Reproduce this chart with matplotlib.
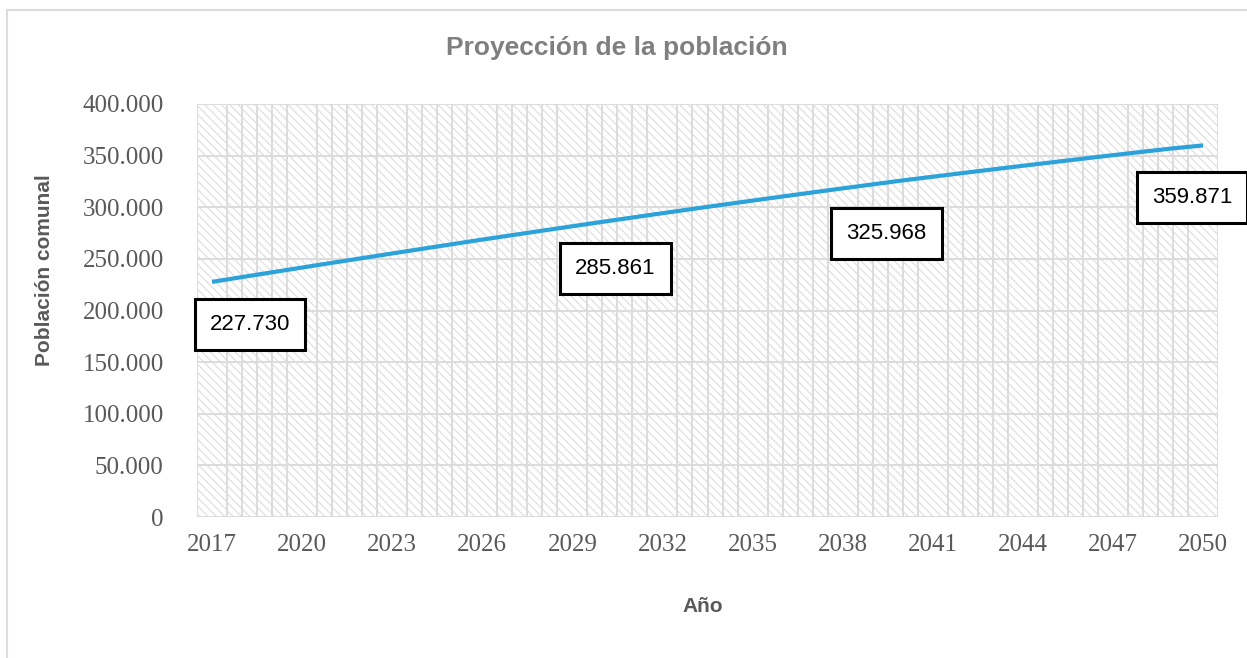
import matplotlib
matplotlib.use("Agg")
import matplotlib.pyplot as plt
from matplotlib.patches import Rectangle
from matplotlib.ticker import FuncFormatter, MultipleLocator

# proyeccion anual de poblacion comunal
years = list(range(2017, 2051))
population = [227730, 232380, 237000, 241600, 246170, 250720, 255240, 259740,
              264220, 268680, 273000, 277300, 281600, 285861, 290060, 294220,
              298340, 302420, 306450, 310440, 314380, 318280, 322140, 325968,
              329560, 333130, 336660, 340160, 343620, 347040, 350430, 353780,
              357040, 359871]
label_years = [2017, 2030, 2040, 2050]
label_offsets = [(38, -43), (13, -47), (-16, -53), (-11, -52)]  # pixels
tick_years = list(range(2017, 2051, 3))

sans = ["Liberation Sans", "DejaVu Sans"]
grid_c = "#DCDCDC"
text_c = "#595959"

plt.rcParams["hatch.color"] = "#E0E0E0"
plt.rcParams["hatch.linewidth"] = 0.9

fig = plt.figure(figsize=(12.47, 6.58), dpi=100)
ax = fig.add_axes([197 / 1247, 1 - 517 / 658, (1218 - 197) / 1247, (517 - 104) / 658])

# fondo rayado del area de trazado
ax.add_patch(Rectangle((0, 0), 1, 1, transform=ax.transAxes, facecolor="white",
                       edgecolor="#E0E0E0", hatch="\\\\\\\\", lw=0, zorder=0))

ax.plot(years, population, color="#2CA2DB", lw=3.0, zorder=3, solid_capstyle="butt")

for yr, off in zip(label_years, label_offsets):
    val = population[years.index(yr)]
    ax.annotate(f"{val:,}".replace(",", "."), xy=(yr, val), xytext=off,
                textcoords="offset pixels", ha="center", va="center",
                fontsize=16, family=sans, color="black", zorder=5,
                bbox=dict(boxstyle="square,pad=0.68", fc="white", ec="black", lw=2.2))

ax.set_xlim(2016.5, 2050.5)
ax.set_ylim(0, 400000)
ax.set_xticks(tick_years)
ax.xaxis.set_minor_locator(MultipleLocator(0.5))
ax.yaxis.set_major_locator(MultipleLocator(50000))
ax.yaxis.set_major_formatter(FuncFormatter(lambda v, p: f"{int(v):,}".replace(",", ".")))

ax.grid(which="minor", axis="x", color=grid_c, lw=1.4, zorder=1)
ax.grid(which="major", axis="y", color=grid_c, lw=1.4, zorder=1)
ax.set_axisbelow(True)
for s in ax.spines.values():
    s.set_visible(False)
ax.tick_params(which="both", length=0)
ax.tick_params(axis="y", pad=24)
ax.tick_params(axis="x", pad=12)
for lab in ax.get_xticklabels() + ax.get_yticklabels():
    lab.set_family("Liberation Serif")
    lab.set_fontsize(18)
    lab.set_color(text_c)

fig.text(617 / 1247, 1 - 48 / 658, "Proyección de la población", ha="center", va="center",
         fontsize=19, fontweight="bold", family=sans, color="#7F7F7F")
fig.text(45 / 1247, 1 - 270 / 658, "Población comunal", ha="center", va="center",
         rotation=90, fontsize=15, fontweight="bold", family=sans, color=text_c)
fig.text(703 / 1247, 1 - 606 / 658, "Año", ha="center", va="center",
         fontsize=15, fontweight="bold", family=sans, color=text_c)

# borde del grafico
fig.add_artist(Rectangle((7 / 1247, -0.05), 1.1, 1 - 10 / 658 + 0.05, transform=fig.transFigure,
                         fill=False, edgecolor=grid_c, lw=1.5))

fig.savefig("out.png", dpi=100)
